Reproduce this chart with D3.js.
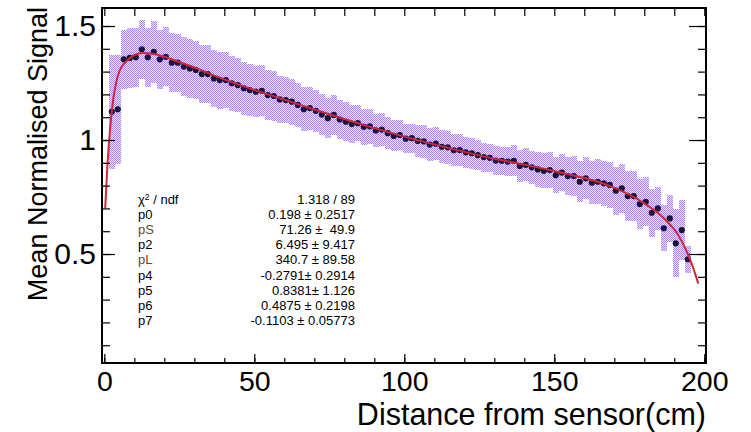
<!DOCTYPE html>
<html><head><meta charset="utf-8">
<script src="https://cdn.jsdelivr.net/npm/d3@7"></script>
<style>
body{margin:0;background:#fff}
svg{display:block}
text{font-family:"Liberation Sans",Arial,Helvetica,sans-serif}
</style>
</head><body>
<svg id="chart" width="751" height="432"></svg>
<script>
// ---- data ----
const binCenters = [2.5,4.5,6.5,8.5,10.5,12.5,14.5,16.5,18.5,20.5,
22.5,24.5,26.5,28.5,30.5,32.5,34.5,36.5,38.5,40.5,
42.5,44.5,46.5,48.5,50.5,52.5,54.5,56.5,58.5,60.5,
62.5,64.5,66.5,68.5,70.5,72.5,74.5,76.5,78.5,80.5,
82.5,84.5,86.5,88.5,90.5,92.5,94.5,96.5,98.5,100.5,
102.5,104.5,106.5,108.5,110.5,112.5,114.5,116.5,118.5,120.5,
122.5,124.5,126.5,128.5,130.5,132.5,134.5,136.5,138.5,140.5,
142.5,144.5,146.5,148.5,150.5,152.5,154.5,156.5,158.5,160.5,
162.5,164.5,166.5,168.5,170.5,172.5,174.5,176.5,178.5,180.5,
182.5,184.5,186.5,188.5,190.5,192.5,194.5];
const meanSignal = [1.124,1.135,1.354,1.360,1.363,1.398,1.363,1.387,1.354,1.365,
1.339,1.339,1.322,1.314,1.307,1.289,1.289,1.270,1.263,1.263,
1.249,1.241,1.227,1.219,1.212,1.216,1.197,1.193,1.178,1.175,
1.168,1.154,1.135,1.140,1.128,1.112,1.096,1.110,1.090,1.080,
1.070,1.074,1.058,1.060,1.042,1.046,1.030,1.018,1.022,1.006,
1.008,0.996,0.994,0.980,0.984,0.970,0.968,0.955,0.956,0.946,
0.942,0.934,0.925,0.922,0.910,0.909,0.905,0.909,0.886,0.891,
0.880,0.871,0.865,0.868,0.846,0.857,0.842,0.842,0.817,0.832,
0.813,0.817,0.810,0.803,0.778,0.788,0.754,0.754,0.719,0.729,
0.681,0.700,0.613,0.656,0.547,0.605,0.477];
const signalError = [0.25,0.24,0.13,0.13,0.13,0.13,0.13,0.135,0.13,0.13,
0.13,0.128,0.128,0.128,0.127,0.126,0.126,0.125,0.125,0.124,
0.12,0.118,0.116,0.114,0.112,0.112,0.11,0.108,0.104,0.1,
0.1,0.098,0.096,0.094,0.092,0.09,0.088,0.087,0.086,0.085,
0.083,0.08,0.078,0.076,0.074,0.072,0.07,0.068,0.066,0.064,
0.063,0.072,0.072,0.073,0.073,0.072,0.072,0.071,0.07,0.069,
0.068,0.066,0.064,0.062,0.062,0.062,0.065,0.068,0.07,0.072,
0.074,0.075,0.076,0.078,0.08,0.082,0.085,0.088,0.09,0.092,
0.095,0.098,0.1,0.102,0.105,0.107,0.108,0.11,0.11,0.108,
0.105,0.095,0.1,0.105,0.15,0.13,0.06];
const binHalfWidth = 1;
const fitX = [0.3,1,2,3,4,5,6,8,10,13,16,20,25,30,40,50,60,70,80,90,100,110,120,130,140,150,160,165,170,175,180,185,188,191,194,196,198];
const fitY = [0.70,0.88,1.06,1.18,1.255,1.30,1.325,1.353,1.372,1.382,1.378,1.365,1.342,1.318,1.266,1.22,1.177,1.134,1.092,1.052,1.015,0.981,0.948,0.918,0.892,0.864,0.833,0.815,0.79,0.76,0.722,0.675,0.637,0.59,0.515,0.45,0.37];
const xTicks = [0,50,100,150,200];
const xMinorTicks = d3.range(0,201,10);
const yTicks = [0.5,1,1.5];
const yMinorTicks = d3.range(1,16).map(d=>d/10);
const statLabels = ["χ² / ndf","p0","pS","p2","pL","p4","p5","p6","p7"];
const statValues = ["1.318 / 89","0.198 ± 0.2517","71.26 ±  49.9","6.495 ± 9.417","340.7 ± 89.58","-0.2791± 0.2914","0.8381± 1.126","0.4875 ± 0.2198","-0.1103 ± 0.05773"];
const xTitle = "Distance from sensor(cm)";
const yTitle = "Mean Normalised Signal";

// ---- layout ----
const L=102, R=706, T=8, B=363;
const svg = d3.select("#chart");
const x = d3.scaleLinear().domain([-0.767,200.57]).range([L,R]);
const y = d3.scaleLinear().domain([0.022,1.579]).range([B,T]);

const defs = svg.append("defs");
const pat = defs.append("pattern").attr("id","dots").attr("width",2).attr("height",2).attr("patternUnits","userSpaceOnUse");
pat.append("rect").attr("width",2).attr("height",2).attr("fill","#eadffc");
pat.append("rect").attr("x",0).attr("y",0).attr("width",1).attr("height",1).attr("fill","#ae88ec");
pat.append("rect").attr("x",1).attr("y",1).attr("width",1).attr("height",1).attr("fill","#ae88ec");
defs.append("clipPath").attr("id","clip").append("rect").attr("x",L).attr("y",T).attr("width",R-L).attr("height",B-T);

const bins = binCenters.map((c,i)=>({c, v:meanSignal[i], e:signalError[i]}));

const plot = svg.append("g").attr("clip-path","url(#clip)");
// error band (per-bin boxes)
plot.append("g").selectAll("rect").data(bins).join("rect")
  .attr("x", d=>x(d.c-binHalfWidth))
  .attr("width", d=>x(d.c+binHalfWidth)-x(d.c-binHalfWidth))
  .attr("y", d=>y(d.v+d.e))
  .attr("height", d=>y(d.v-d.e)-y(d.v+d.e))
  .attr("fill","url(#dots)")
  .attr("shape-rendering","crispEdges");

// points
plot.append("g").selectAll("circle").data(bins).join("circle")
  .attr("cx", d=>x(d.c)).attr("cy", d=>y(d.v)).attr("r",3.1)
  .attr("fill","#17133d");

// fit line
const line = d3.line().x(d=>x(d[0])).y(d=>y(d[1])).curve(d3.curveMonotoneX);
plot.append("path").datum(fitX.map((d,i)=>[d,fitY[i]]))
  .attr("d",line).attr("fill","none").attr("stroke","#d0263a").attr("stroke-width",2);

// axes
function styleAxis(g){ g.select(".domain").remove(); g.selectAll("line").attr("stroke","#000").attr("stroke-width",1.2); }
svg.append("g").attr("transform",`translate(0,${B})`)
  .call(d3.axisBottom(x).tickValues(xMinorTicks).tickSizeInner(-5).tickSizeOuter(0).tickFormat(""))
  .call(styleAxis);
const xa = svg.append("g").attr("transform",`translate(0,${B})`)
  .call(d3.axisBottom(x).tickValues(xTicks).tickSizeInner(-9).tickSizeOuter(0).tickPadding(7.5).tickFormat(d3.format("d")))
  .call(styleAxis);
xa.selectAll("text").attr("font-size",28.5).attr("fill","#000");
svg.append("g").attr("transform",`translate(0,${T})`)
  .call(d3.axisTop(x).tickValues(xMinorTicks).tickSizeInner(-8).tickSizeOuter(0).tickFormat(""))
  .call(styleAxis);

svg.append("g").attr("transform",`translate(${L},0)`)
  .call(d3.axisLeft(y).tickValues(yMinorTicks).tickSizeInner(-8).tickSizeOuter(0).tickFormat(""))
  .call(styleAxis);
const ya = svg.append("g").attr("transform",`translate(${L},0)`)
  .call(d3.axisLeft(y).tickValues(yTicks).tickSizeInner(-13).tickSizeOuter(0).tickPadding(6).tickFormat(d=>String(d)))
  .call(styleAxis);
ya.selectAll("text").attr("font-size",30).attr("fill","#000");
svg.append("g").attr("transform",`translate(${R},0)`)
  .call(d3.axisRight(y).tickValues(yMinorTicks).tickSizeInner(-8).tickSizeOuter(0).tickFormat(""))
  .call(styleAxis);
svg.append("g").attr("transform",`translate(${R},0)`)
  .call(d3.axisRight(y).tickValues(yTicks).tickSizeInner(-17).tickSizeOuter(0).tickFormat(""))
  .call(styleAxis);

// frame
svg.append("rect").attr("x",L).attr("y",T).attr("width",R-L).attr("height",B-T)
  .attr("fill","none").attr("stroke","#000").attr("stroke-width",2);

// titles
svg.append("text").attr("x",R).attr("y",425).attr("text-anchor","end")
  .attr("font-size",30.5).attr("fill","#000").text(xTitle);
svg.append("text").attr("transform",`translate(47,${T-1}) rotate(-90)`).attr("text-anchor","end")
  .attr("font-size",27).attr("fill","#000").text(yTitle);

// stats box
const stats = svg.append("g").attr("font-size",13).attr("fill","#000");
statLabels.forEach((s,i)=>{
  const yy = 204 + i*15.1;
  const lt = stats.append("text").attr("x",138).attr("y",yy)
    .attr("fill", (s==="pS"||s==="pL") ? "#5e4a1e" : "#000");
  if(i===0){
    lt.append("tspan").text("χ");
    lt.append("tspan").attr("font-size",8.5).attr("dy",-4.5).text("2");
    lt.append("tspan").attr("dy",4.5).text(" / ndf");
  } else lt.text(s);
  stats.append("text").attr("x",355).attr("y",yy).attr("text-anchor","end")
    .style("white-space","pre").attr("xml:space","preserve").text(statValues[i]);
});
</script>
</body></html>
